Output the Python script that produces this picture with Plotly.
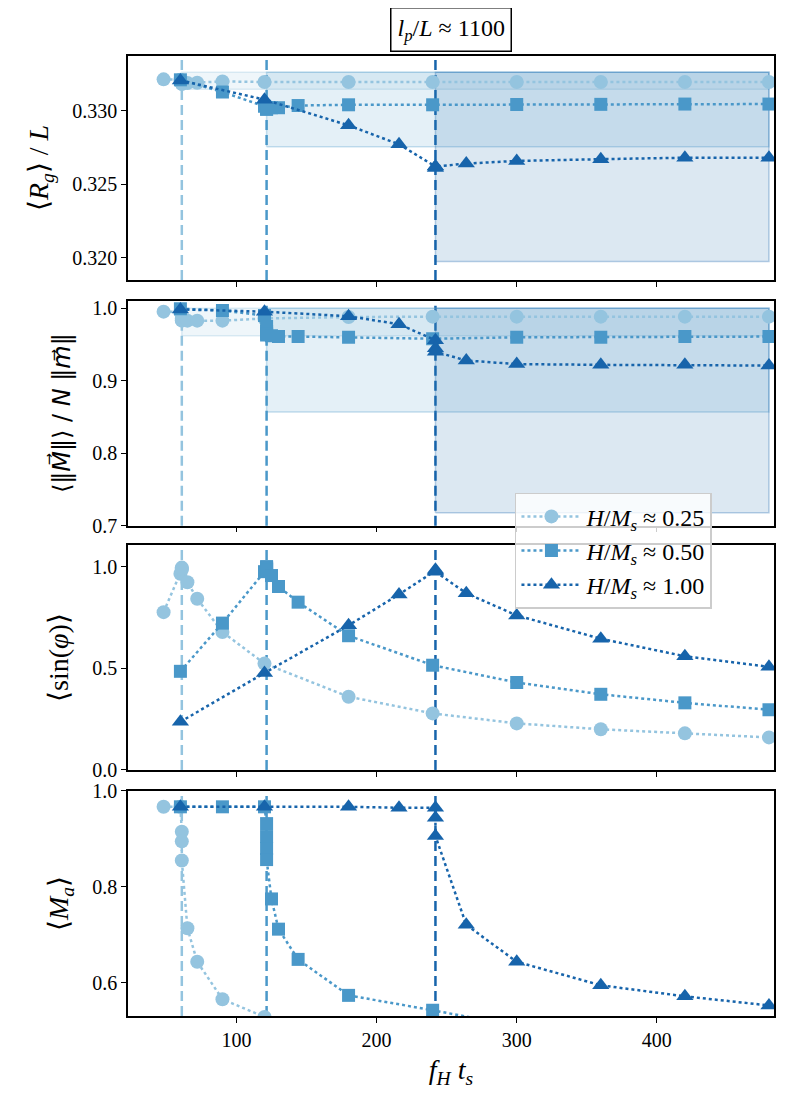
import plotly.graph_objects as go
from plotly.subplots import make_subplots

# driving frequency (f_H t_s) for each field strength
x_025 = [48, 60, 61, 61, 61, 65, 72, 90, 120, 180, 240, 300, 360, 420, 480]
x_050 = [60, 90, 120, 121.5, 121.5, 121.5, 121.5, 125, 130, 144, 180, 240, 300, 360, 420, 480]
x_100 = [60, 120, 180, 216, 242, 242, 242, 264, 300, 360, 420, 480]

# <R_g>/L
rg_025 = [0.33213, 0.3321, 0.33183, 0.33183, 0.33185, 0.33188, 0.3319, 0.33199, 0.33195,
          0.33195, 0.33195, 0.33195, 0.33195, 0.33195, 0.33195]
rg_050 = [0.3321, 0.33127, 0.3303, 0.3302, 0.3301, 0.3301, 0.3302, 0.3302, 0.3302, 0.33035,
          0.3304, 0.3304, 0.33042, 0.33043, 0.33045, 0.33045]
rg_100 = [0.33206, 0.33075, 0.329, 0.32771, 0.3262, 0.3261, 0.3262, 0.3264, 0.32658, 0.3267,
          0.3268, 0.3268]

# <||M||>/N||m||
mag_025 = [0.9954, 0.995, 0.986, 0.984, 0.983, 0.983, 0.983, 0.983, 0.986, 0.988, 0.9885,
           0.9885, 0.9885, 0.9885, 0.9885]
mag_050 = [0.9995, 0.997, 0.99, 0.975, 0.968, 0.965, 0.963, 0.962, 0.961, 0.961, 0.96, 0.958,
           0.96, 0.96, 0.961, 0.961]
mag_100 = [0.9985, 0.9954, 0.989, 0.978, 0.956, 0.945, 0.94, 0.928, 0.923, 0.922, 0.922, 0.921]

# <sin(phi)>
sin_025 = [0.776, 0.965, 0.985, 0.995, 0.99, 0.923, 0.842, 0.678, 0.523, 0.36, 0.278, 0.229,
           0.2, 0.18, 0.16]
sin_050 = [0.485, 0.722, 0.975, 0.99, 1.0, 0.995, 0.985, 0.956, 0.902, 0.825, 0.66, 0.515,
           0.43, 0.372, 0.33, 0.296]
sin_100 = [0.237, 0.477, 0.711, 0.863, 0.98, 0.985, 0.975, 0.869, 0.76, 0.645, 0.559, 0.507]

# <M_a>
ma_025 = [0.967, 0.967, 0.915, 0.895, 0.855, 0.714, 0.644, 0.566, 0.529, 0.47, 0.44, 0.42,
          0.41, 0.40, 0.39]
ma_050 = [0.967, 0.967, 0.967, 0.932, 0.905, 0.88, 0.857, 0.775, 0.712, 0.649, 0.574, 0.543,
          0.51, 0.49, 0.475, 0.465]
ma_100 = [0.967, 0.967, 0.967, 0.965, 0.965, 0.944, 0.906, 0.721, 0.644, 0.595, 0.572, 0.553]

# thresholds and steady-state bands
thresholds = [61, 121.5, 242]
band_end = 480
band_rg_lo = [0.33146, 0.32755, 0.31973]
band_rg_hi = [0.33262, 0.33262, 0.33262]
band_mag_lo = [0.962, 0.857, 0.718]
band_mag_hi = [1.0, 1.0, 1.0]

labels = ["<i>H</i>/<i>M<sub>s</sub></i> ≈ 0.25",
          "<i>H</i>/<i>M<sub>s</sub></i> ≈ 0.50",
          "<i>H</i>/<i>M<sub>s</sub></i> ≈ 1.00"]
colors = ["#94c4df", "#4a98c9", "#1764ab"]
fills = ["rgba(148,196,223,0.15)", "rgba(74,152,201,0.15)", "rgba(23,100,171,0.15)"]
edges = ["rgba(148,196,223,0.3)", "rgba(74,152,201,0.3)", "rgba(23,100,171,0.3)"]
symbols = ["circle", "square", "triangle-up"]
sizes = [14, 13, 15]

xs = [x_025, x_050, x_100]
panels = [
    [rg_025, rg_050, rg_100],
    [mag_025, mag_050, mag_100],
    [sin_025, sin_050, sin_100],
    [ma_025, ma_050, ma_100],
]
bands = {1: (band_rg_lo, band_rg_hi), 2: (band_mag_lo, band_mag_hi)}

FONT = "Liberation Serif"

fig = make_subplots(rows=4, cols=1, shared_xaxes=True)

for row, series in enumerate(panels, start=1):
    if row in bands:
        lo, hi = bands[row]
        for i in range(3):
            x0 = thresholds[i]
            fig.add_trace(go.Scatter(
                x=[x0, band_end, band_end, x0, x0],
                y=[lo[i], lo[i], hi[i], hi[i], lo[i]],
                mode="lines", fill="toself", fillcolor=fills[i],
                line=dict(color=edges[i], width=1.5),
                showlegend=False, hoverinfo="skip",
            ), row=row, col=1)
    for i in range(3):
        fig.add_trace(go.Scatter(
            x=xs[i], y=series[i], mode="lines+markers",
            name=labels[i], showlegend=(row == 1),
            line=dict(color=colors[i], width=2.5, dash="dot"),
            marker=dict(symbol=symbols[i], size=sizes[i], color=colors[i], line=dict(width=0)),
        ), row=row, col=1)
    for i in range(3):
        fig.add_vline(x=thresholds[i], line=dict(color=colors[i], width=2.5, dash="10px,5px"),
                      layer="below", row=row, col=1)

domains = [[0.7667, 1.0], [0.5107, 0.7451], [0.2563, 0.4906], [0.0, 0.2344]]
yranges = [[0.31848, 0.33372], [0.7, 1.0105], [0.0, 1.106], [0.531, 1.0]]
ytitles = [
    "⟨<i>R<sub>g</sub></i>⟩ / <i>L</i>",
    "⟨‖<i>M⃗</i>‖⟩ / <i>N</i> ‖<i>m⃗</i>‖",
    "⟨sin(<i>φ</i>)⟩",
    "⟨<i>M<sub>a</sub></i>⟩",
]
title_fonts = [FONT, "DejaVu Sans", FONT, FONT]
title_sizes = [28, 24, 28, 28]
ytickvals = [[0.320, 0.325, 0.330], [0.7, 0.8, 0.9, 1.0], [0.0, 0.5, 1.0], [0.6, 0.8, 1.0]]
yformats = [".3f", ".1f", ".1f", ".1f"]

axis_style = dict(showline=True, linecolor="black", linewidth=1.5, mirror=True,
                  ticks="outside", ticklen=5, tickwidth=1.2, tickcolor="black",
                  showgrid=False, zeroline=False,
                  tickfont=dict(family=FONT, size=20, color="black"))

for r in range(4):
    fig.update_yaxes(domain=domains[r], range=yranges[r], tickvals=ytickvals[r],
                     tickformat=yformats[r],
                     title=dict(text=ytitles[r],
                                font=dict(family=title_fonts[r], size=title_sizes[r], color="black")),
                     row=r + 1, col=1, **axis_style)
    fig.update_xaxes(range=[22.6, 483.6], tickvals=[100, 200, 300, 400],
                     row=r + 1, col=1, **axis_style)

fig.update_xaxes(title=dict(text="<i>f<sub>H</sub> t<sub>s</sub></i>",
                            font=dict(family=FONT, size=28, color="black"), standoff=10),
                 row=4, col=1)

fig.add_annotation(text="<i>l<sub>p</sub></i>/<i>L</i> ≈ 1100", xref="paper", yref="paper",
                   x=0.5, y=1.028, xanchor="center", yanchor="middle", showarrow=False,
                   bordercolor="black", borderwidth=1.5, borderpad=6,
                   font=dict(family=FONT, size=24, color="black"))

# page body adds an 8px offset, so the figure is sized to fit the window
fig.update_layout(
    width=781, height=1098,
    margin=dict(l=120, r=15, t=48, b=90),
    paper_bgcolor="white", plot_bgcolor="white",
    font=dict(family=FONT, color="black"),
    legend=dict(x=0.599, y=0.545, xanchor="left", yanchor="top",
                bgcolor="rgba(255,255,255,0.8)", bordercolor="#cccccc", borderwidth=1.5,
                font=dict(family=FONT, size=24), itemwidth=60, entrywidth=230,
                tracegroupgap=0),
)

fig.write_html("out.html")
